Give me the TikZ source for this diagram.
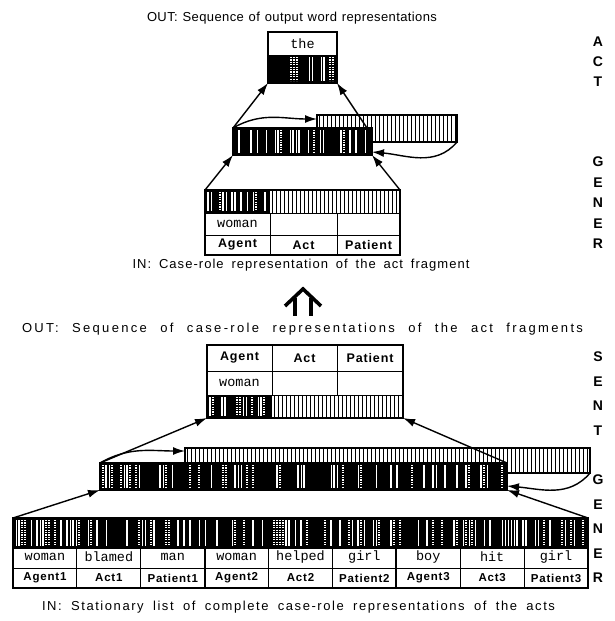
\documentclass[tikz,border=0pt]{standalone}
\usepackage{fontspec}
\setmainfont{Liberation Sans}
\setmonofont{Liberation Mono}
\newfontfamily\capfont{Liberation Sans}
\newfontfamily\rolefont[LetterSpace=7]{Liberation Sans}
\usepackage{tikz}
\usetikzlibrary{arrows.meta,positioning,calc}

% empty units: thin regular stripes
\newcommand{\flatbar}[4]{%
  \fill[white] (#1,#2) rectangle (#3,#4);
  \pgfmathtruncatemacro{\nst}{(#3-#1)/4}%
  \foreach \k in {1,...,\nst}
    \draw[line width=1.9pt] ({#1+\k*4-1.5},#2) -- ({#1+\k*4-1.5},#4);
}
% active units: black with white and grey stripes
\newcommand{\mixbar}[6]{%
  \fill (#1,#2) rectangle (#3,#4);
  \pgfmathsetseed{#5}%
  \pgfmathtruncatemacro{\nst}{(#3-#1)/3-1}%
  \foreach \k in {1,...,\nst}{%
    \pgfmathrandominteger{\rc}{0}{#6}%
    \pgfmathsetmacro{\xs}{#1+\k*3}%
    \ifcase\rc\relax
    \or \draw[white,line width=1.5pt] ({\xs},{#2+2}) -- ({\xs},{#4-2});
    \or \draw[white,line width=1.6pt,dash pattern=on 1.2pt off 1.2pt] ({\xs},{#2+2}) -- ({\xs},{#4-2});
    \or \draw[white,line width=0.9pt] ({\xs},{#2+2}) -- ({\xs},{#4-2});
    \fi
  }%
}
\newcommand{\captext}[3]{\makebox[#1pt][s]{\addfontfeature{LetterSpace=#2}#3}}

\begin{document}
\begin{tikzpicture}[x=1pt, y=-1pt,
    layer/.style={draw, line width=1.7pt, inner sep=0pt, outer sep=0pt, anchor=north west},
    grid/.style={line width=1pt},
    word/.style={font=\ttfamily\fontsize{13.5}{13.5}\selectfont, inner sep=0pt},
    role/.style={font=\rolefont\bfseries\fontsize{12.5}{12.5}\selectfont, inner sep=0pt},
    caption/.style={font=\capfont\fontsize{13}{13}\selectfont, inner sep=0pt},
    letter/.style={font=\bfseries\fontsize{14}{14}\selectfont, inner sep=0pt},
    arrow/.style={draw, -{Latex[length=12pt,width=8pt]}, line width=1.4pt}
  ]
  \useasboundingbox (0,0) rectangle (615,621);

  % ACT GENER
  \node[caption] (acapout) at (292,18) {\captext{290}{3}{OUT: Sequence of output word representations}};

  \fill (268,55) rectangle (337,83);
  \mixbar{288}{55}{337}{83}{7}{4}
  \node[layer, minimum width=69pt, minimum height=51pt] (aout) at (268,32) {};
  \draw[grid] (268,55) -- (337,55);
  \node[word] (wthe) at (302.5,44) {the};

  \flatbar{317}{115}{457}{142}
  \node[layer, minimum width=140pt, minimum height=27pt] (aprev) at (317,115) {};
  \mixbar{233}{128}{372}{155}{3}{7}
  \node[layer, minimum width=139pt, minimum height=27pt] (ahid) at (233,128) {};

  \mixbar{205}{190}{270}{213}{11}{4}
  \flatbar{270}{190}{400}{213}
  \node[layer, minimum width=195pt, minimum height=65pt] (ain) at (205,190) {};
  \draw[grid] (205,213) -- (400,213) (205,235) -- (400,235)
              (270,213) -- (270,255) (337,213) -- (337,255);
  \node[word] (awoman) at (237.5,224) {woman};
  \node[role] (aagent) at (237.5,245) {Agent};
  \node[role] (aact) at (303.5,245) {Act};
  \node[role] (apatient) at (368.5,245) {Patient};
  \node[caption] (acapin) at (301,265) {\captext{337}{8}{IN: Case-role representation of the act fragment}};

  \path [arrow] (ain.north west) -- (ahid.south west);
  \path [arrow] (ain.north east) -- (ahid.south east);
  \path [arrow] (ahid.north west) -- (aout.south west);
  \path [arrow] ($(ahid.north east)+(-5,0)$) -- (aout.south east);
  \path [arrow] (ahid.north west) to[out=30,in=180] ($(aprev.north west)+(0,4)$);
  \path [arrow] (aprev.south east) to[out=-130,in=-5] ($(ahid.south east)+(0,-3)$);

  % link between the two generators
  \draw[line width=3.6pt, line join=miter] (285,306) -- (303,289) -- (321,306);
  \draw[line width=3.4pt] (295,298) -- (295,316) (311,298) -- (311,316);

  % SENT GENER
  \node[caption] (scapout) at (302.5,329) {\captext{561}{18}{OUT: Sequence of case-role representations of the act fragments}};

  \mixbar{207}{395}{272}{418}{21}{4}
  \flatbar{272}{395}{403}{418}
  \node[layer, minimum width=196pt, minimum height=73pt] (sout) at (207,345) {};
  \draw[grid] (207,371) -- (403,371) (207,395) -- (403,395)
              (272,345) -- (272,395) (337,345) -- (337,395);
  \node[role] (sagent) at (239.5,358) {Agent};
  \node[role] (sact) at (304.5,358) {Act};
  \node[role] (spatient) at (370,358) {Patient};
  \node[word] (swoman) at (239.5,383) {woman};

  \flatbar{185}{448}{590}{473}
  \node[layer, minimum width=405pt, minimum height=25pt] (sprev) at (185,448) {};
  \mixbar{100}{463}{507}{490}{5}{6}
  \node[layer, minimum width=407pt, minimum height=27pt] (shid) at (100,463) {};

  \mixbar{13}{518}{588}{548}{17}{5}
  \node[layer, minimum width=575pt, minimum height=70pt] (sin) at (13,518) {};
  \draw[grid] (13,548) -- (588,548) (13,568) -- (588,568);
  \foreach \w/\r [count=\i from 0] in {woman/Agent1, blamed/Act1, man/Patient1,
      woman/Agent2, helped/Act2, girl/Patient2, boy/Agent3, hit/Act3, girl/Patient3}{
    \node[word] (sw\i) at ({13+63.89*(\i+0.5)},557) {\w};
    \node[role, font=\rolefont\bfseries\fontsize{11.5}{11.5}\selectfont] (sr\i) at ({13+63.89*(\i+0.5)},578) {\r};
  }
  \foreach \i in {1,2,4,5,7,8}
    \draw[grid] ({13+63.89*\i},548) -- ({13+63.89*\i},588);
  \foreach \i in {3,6}
    \draw[line width=1.8pt] ({13+63.89*\i},548) -- ({13+63.89*\i},588);
  \node[caption] (scapin) at (298.5,607) {\captext{513}{12}{IN: Stationary list of complete case-role representations of the acts}};

  \path [arrow] (sin.north west) -- (shid.south west);
  \path [arrow] (sin.north east) -- (shid.south east);
  \path [arrow] (shid.north west) -- (sout.south west);
  \path [arrow] (shid.north east) -- (sout.south east);
  \path [arrow] (shid.north west) to[out=30,in=180] ($(sprev.north west)+(0,3)$);
  \path [arrow] (sprev.south east) to[out=-130,in=-5] ($(shid.south east)+(0,-4)$);

  % side titles
  \foreach \c/\y [count=\n] in {A/42, C/62, T/82, G/162, E/183, N/203, E/224, R/244}
    \node[letter] (act\n) at (598,\y) {\c};
  \foreach \c/\y [count=\n] in {S/357, E/382, N/406, T/431, G/480, E/505, N/529, E/554, R/578}
    \node[letter] (sent\n) at (598,\y) {\c};
\end{tikzpicture}
\end{document}
